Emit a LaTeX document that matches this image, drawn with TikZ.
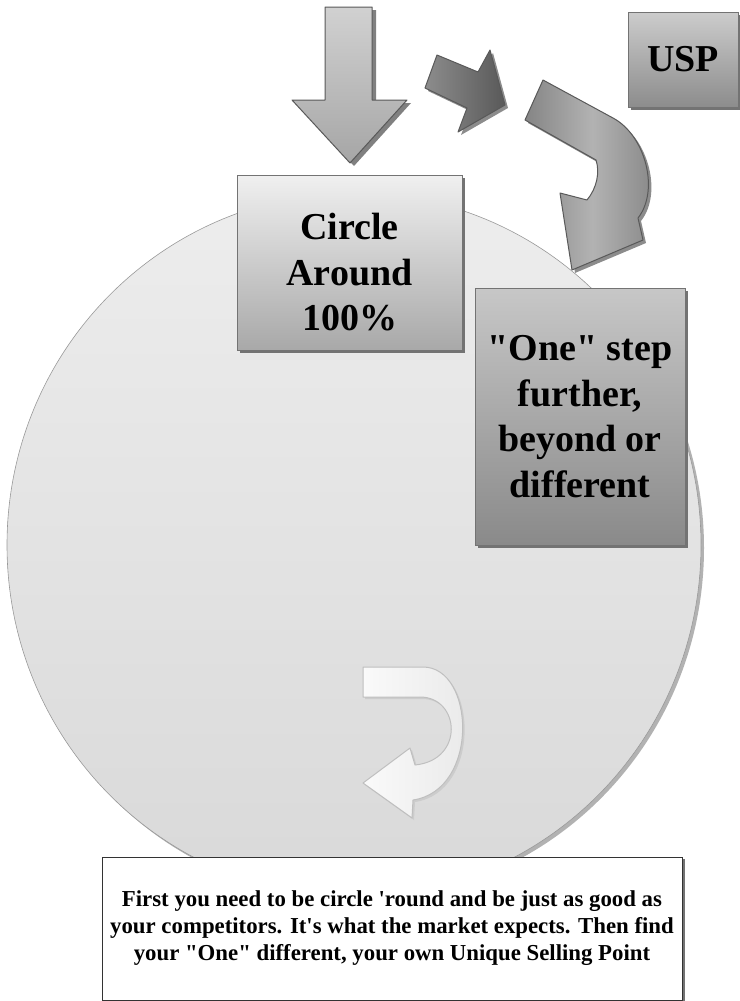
\documentclass[tikz,border=0pt]{standalone}
\usepackage{fontspec}
\setmainfont{Liberation Serif}[Ligatures=TeXOff]
\usetikzlibrary{shadows}

\tikzset{
  gradbox/.style={draw=black!55, line width=0.8pt, inner sep=0pt, align=center,
    font=\bfseries\fontsize{38}{45.5}\selectfont,
    drop shadow={shadow xshift=3pt, shadow yshift=-3pt, fill=black!55, opacity=1}},
  blockarrow/.style={draw=black!65, line width=1pt, line join=round}
}

\begin{document}
\begin{tikzpicture}[x=1pt, y=-1pt]
  \useasboundingbox (0,0) rectangle (739,1001);

  % the big circle
  \fill[black!30] (357,548) ellipse [x radius=347, y radius=352];
  \draw[draw=black!40, line width=0.6pt, top color=black!7, bottom color=black!15]
    (354,545) ellipse [x radius=347, y radius=352];

  % the light turning arrow inside the circle
  \fill[black!20, shift={(2,2)}]
    (363,667) -- (423,667) .. controls (475,667) and (480,790) .. (413,800)
    -- (412,818) -- (363,783) -- (410,748) -- (415,765)
    .. controls (465,760) and (460,697) .. (420,697) -- (363,697) -- cycle;
  \draw[draw=black!25, line width=1pt, line join=round, left color=black!2, right color=black!9]
    (363,667) -- (423,667) .. controls (475,667) and (480,790) .. (413,800)
    -- (412,818) -- (363,783) -- (410,748) -- (415,765)
    .. controls (465,760) and (460,697) .. (420,697) -- (363,697) -- cycle;

  % arrow down into the first box
  \fill[black!50, shift={(4,3)}]
    (325,7) -- (372,7) -- (372,100) -- (407,100) -- (350,163) -- (292,100) -- (325,100) -- cycle;
  \draw[blockarrow, top color=black!18, bottom color=black!35]
    (325,7) -- (372,7) -- (372,100) -- (407,100) -- (350,163) -- (292,100) -- (325,100) -- cycle;

  % small step arrow
  \fill[black!45, shift={(3,3)}]
    (437,55) -- (478,72) -- (490,50) -- (505,105) -- (458,132) -- (467,108) -- (425,88) -- cycle;
  \draw[blockarrow, left color=black!45, right color=black!65]
    (437,55) -- (478,72) -- (490,50) -- (505,105) -- (458,132) -- (467,108) -- (425,88) -- cycle;

  % curved arrow down to the second box
  \fill[black!45, shift={(3,3)}]
    (543,80) -- (613,118) .. controls (645,135) and (660,190) .. (638,218)
    -- (643,240) -- (572,270) -- (560,193) -- (587,200)
    .. controls (597,188) and (600,172) .. (596,160) -- (525,120) -- cycle;
  \draw[blockarrow, left color=black!48, right color=black!48, middle color=black!30]
    (543,80) -- (613,118) .. controls (645,135) and (660,190) .. (638,218)
    -- (643,240) -- (572,270) -- (560,193) -- (587,200)
    .. controls (597,188) and (600,172) .. (596,160) -- (525,120) -- cycle;

  % boxes
  \node[gradbox, minimum width=225pt, minimum height=175pt,
    top color=black!6, bottom color=black!34] (around) at (349.5,262.5)
    {\rule{0pt}{46pt}Circle\\Around\\100\%};
  \node[gradbox, minimum width=210pt, minimum height=257pt,
    top color=black!22, bottom color=black!46] (further) at (580,416.5)
    {"One" step\\further,\\beyond or\\different};
  \node[gradbox, minimum width=110pt, minimum height=95pt,
    top color=black!20, bottom color=black!45] (usp) at (683,59.5)
    {USP};

  % note at the bottom
  \node[draw=black!80, line width=0.8pt, fill=white, inner sep=0pt, align=center,
    minimum width=580pt, minimum height=143pt,
    font=\bfseries\fontsize{22.8}{27}\selectfont,
    drop shadow={shadow xshift=3pt, shadow yshift=-2pt, fill=black!55, opacity=1}] (note) at (392,928.5)
    {First you need to be circle 'round and be just as good as\\
     your competitors. It's what the market expects. Then find\\
     your "One" different, your own Unique Selling Point};
\end{tikzpicture}
\end{document}
